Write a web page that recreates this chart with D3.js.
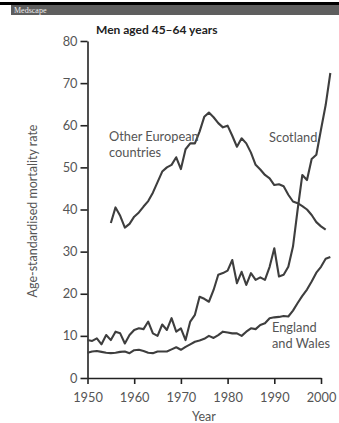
<!DOCTYPE html>
<html>
<head>
<meta charset="utf-8">
<script src="https://cdn.jsdelivr.net/npm/d3@7"></script>
<style>
  html, body { margin: 0; padding: 0; background: #fff; }
  svg { display: block; }
  text { font-family: Lato, "Open Sans", sans-serif; }
</style>
</head>
<body>
<svg id="chart" width="339" height="423"></svg>
<script>
// Age-standardised mortality rate, men aged 45-64 years
const title = "Men aged 45–64 years";
const yTicks = [0, 10, 20, 30, 40, 50, 60, 70, 80];
const xTicks = [1950, 1960, 1970, 1980, 1990, 2000];

const scotlandYears = d3.range(1950, 2003);
const scotlandValues = [
  9.0, 8.8, 9.4, 8.0, 10.2, 9.0, 11.0, 10.6, 8.2, 10.2,
  11.4, 11.8, 11.6, 13.4, 10.6, 10.0, 12.7, 11.4, 14.2, 11.0,
  11.8, 9.0, 13.4, 15.0, 19.3, 18.8, 18.1, 20.9, 24.5, 24.9,
  25.5, 28.0, 22.5, 25.2, 22.1, 24.9, 23.3, 23.9, 23.3, 26.4,
  30.8, 24.1, 24.5, 26.4, 31.2, 40.0, 48.2, 47.0, 52.0, 53.0,
  59.0, 64.8, 72.4
];

const englandYears = d3.range(1950, 2003);
const englandValues = [
  6.0, 6.3, 6.4, 6.2, 6.0, 5.9, 6.0, 6.2, 6.3, 5.9,
  6.6, 6.7, 6.4, 6.0, 5.9, 6.3, 6.3, 6.3, 6.8, 7.3,
  6.7, 7.4, 8.0, 8.6, 8.9, 9.3, 10.0, 9.5, 10.2, 11.0,
  10.8, 10.6, 10.6, 10.0, 11.0, 11.8, 11.6, 12.6, 13.0, 14.2,
  14.4, 14.5, 14.7, 14.6, 16.0, 17.8, 19.5, 21.0, 22.9, 25.0,
  26.4, 28.3, 28.7
];

const europeYears = d3.range(1955, 2002);
const europeValues = [
  36.8, 40.5, 38.5, 35.7, 36.6, 38.3, 39.3, 40.7, 42.0, 44.0,
  46.5, 49.0, 50.0, 50.6, 52.4, 49.6, 54.3, 55.7, 55.7, 58.5,
  62.0, 63.0, 61.9, 60.5, 59.5, 59.9, 57.5, 54.9, 56.9, 55.7,
  53.5, 50.6, 49.5, 48.2, 47.4, 45.8, 46.0, 45.5, 43.5, 41.9,
  41.5, 40.8, 40.0, 38.7, 37.0, 36.0, 35.2
];

const svg = d3.select("#chart");

// Publisher banner
svg.append("rect").attr("x", 0).attr("y", 2).attr("width", 339).attr("height", 3).attr("fill", "#000");
svg.append("rect").attr("x", 11).attr("y", 5).attr("width", 328).attr("height", 10).attr("fill", "#5e5e5e");
svg.append("text").attr("x", 14).attr("y", 13).attr("fill", "#eee")
  .attr("font-size", 8).style("font-family", "'Liberation Serif', serif").text("Medscape");

const x = d3.scaleLinear().domain([1950, 2000]).range([87.5, 321]);
const y = d3.scaleLinear().domain([0, 80]).range([378, 41]);

const axisColor = "#222";
const textColor = "#555";

// Y axis
const yAxis = svg.append("g").attr("transform", `translate(${x(1950)},0)`)
  .call(d3.axisLeft(y).tickValues(yTicks).tickSize(7).tickPadding(3).tickSizeOuter(0));
// X axis
const xAxis = svg.append("g").attr("transform", `translate(0,${y(0)})`)
  .call(d3.axisBottom(x).tickValues(xTicks).tickSize(6).tickPadding(9).tickFormat(d3.format("d")).tickSizeOuter(0));

[yAxis, xAxis].forEach(g => {
  g.select(".domain").attr("stroke", axisColor).attr("stroke-width", 1.6);
  g.selectAll(".tick line").attr("stroke", axisColor).attr("stroke-width", 1.6);
  g.selectAll(".tick text").attr("fill", textColor).attr("font-size", 12.8)
    .style("font-family", "Lato, 'Open Sans', sans-serif");
});

// Axis titles
svg.append("text").attr("transform", `translate(37,211) rotate(-90)`)
  .attr("text-anchor", "middle").attr("fill", textColor).attr("font-size", 12.5)
  .text("Age-standardised mortality rate");
svg.append("text").attr("x", 204).attr("y", 421)
  .attr("text-anchor", "middle").attr("fill", textColor).attr("font-size", 12.5)
  .text("Year");

// Chart title
svg.append("text").attr("x", 96).attr("y", 34).attr("fill", "#222")
  .attr("font-size", 12).attr("font-weight", 700).text(title);

// Series lines
const line = d3.line().x(d => x(d[0])).y(d => y(d[1]));
const series = [
  d3.zip(europeYears, europeValues),
  d3.zip(scotlandYears, scotlandValues),
  d3.zip(englandYears, englandValues)
];
svg.selectAll("path.series").data(series).enter().append("path")
  .attr("class", "series")
  .attr("d", line)
  .attr("fill", "none")
  .attr("stroke", "#3e3e3e")
  .attr("stroke-width", 2.1)
  .attr("stroke-linejoin", "round");

// Series labels
const labels = [
  { lines: ["Other European", "countries"], x: 109, y: 141 },
  { lines: ["Scotland"], x: 269, y: 142 },
  { lines: ["England", "and Wales"], x: 272, y: 332 }
];
labels.forEach(l => {
  const t = svg.append("text").attr("x", l.x).attr("y", l.y)
    .attr("fill", textColor).attr("font-size", 12.8);
  l.lines.forEach((s, i) => {
    t.append("tspan").attr("x", l.x).attr("dy", i === 0 ? 0 : 16).text(s);
  });
});
</script>
</body>
</html>
